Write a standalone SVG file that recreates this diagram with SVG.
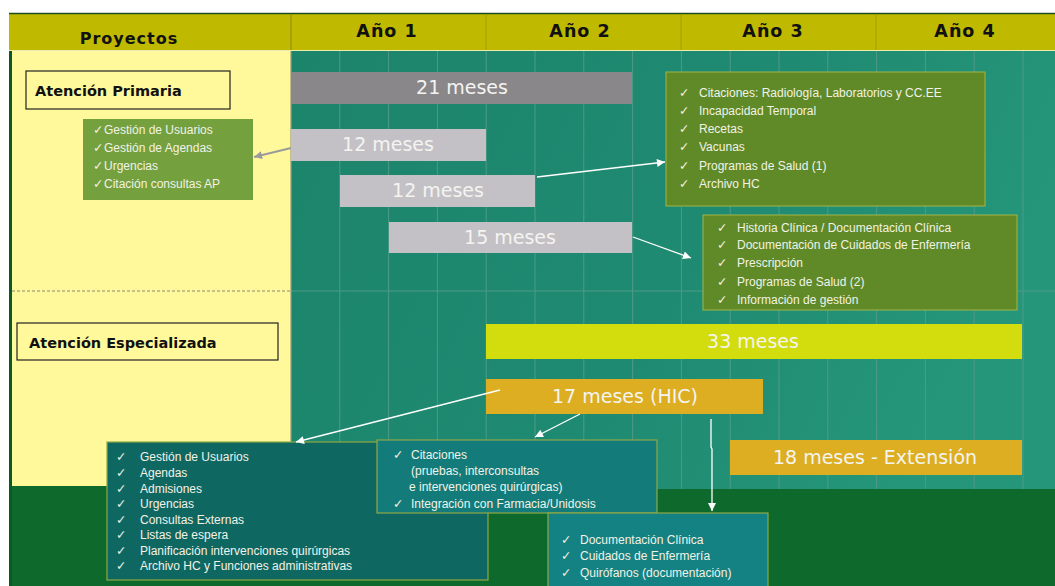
<svg xmlns="http://www.w3.org/2000/svg" width="1055" height="586" viewBox="0 0 1055 586">
<defs>
<linearGradient id="teal" x1="0" y1="0" x2="1" y2="0.3">
<stop offset="0" stop-color="#1c846b"/>
<stop offset="0.6" stop-color="#1f8a72"/>
<stop offset="1" stop-color="#259679"/>
</linearGradient>
<marker id="aw" viewBox="0 0 10 10" refX="10" refY="5" markerWidth="9" markerHeight="8" markerUnits="userSpaceOnUse" orient="auto">
<path d="M0,0 L10,5 L0,10 z" fill="#ffffff"/>
</marker>
<marker id="ag" viewBox="0 0 10 10" refX="10" refY="5" markerWidth="10" markerHeight="8" markerUnits="userSpaceOnUse" orient="auto">
<path d="M0,0 L10,5 L0,10 z" fill="#9a9a9a"/>
</marker>
<style>
.hdr{font-family:"DejaVu Sans",sans-serif;font-weight:bold;fill:#111;text-anchor:middle}
.lbl{font-family:"DejaVu Sans",sans-serif;font-weight:bold;font-size:14.5px;fill:#111}
.bar{font-family:"DejaVu Sans",sans-serif;font-size:19px;fill:#f4f4f0;text-anchor:middle}
.lst{font-family:"Liberation Sans",Arial,sans-serif;font-size:12px;fill:#f2f2e6}
.chk{font-family:"DejaVu Sans",sans-serif;font-size:12.5px;fill:#f2f2e6}
.grid{stroke:#4f9a86;stroke-width:1}
.con{fill:none;stroke:#ffffff;stroke-width:1.3}
.olive{fill:#5f8a27;stroke:#a3b445;stroke-width:1}
.tealbox{stroke:#8fa845;stroke-width:1.2}
</style>
</defs>

<g id="background">
<rect x="9" y="13" width="1046" height="573" fill="#0d6a2c"/>
<rect x="12" y="51" width="279" height="435" fill="#fff99c"/>
<rect x="291" y="51" width="764" height="438" fill="url(#teal)"/>
<g id="grid">
<line class="grid" x1="339.8" y1="51" x2="339.8" y2="489"/>
<line class="grid" x1="388.6" y1="51" x2="388.6" y2="489"/>
<line class="grid" x1="437.4" y1="51" x2="437.4" y2="489"/>
<line class="grid" x1="486.2" y1="51" x2="486.2" y2="489"/>
<line class="grid" x1="535" y1="51" x2="535" y2="489"/>
<line class="grid" x1="583.8" y1="51" x2="583.8" y2="489"/>
<line class="grid" x1="632.6" y1="51" x2="632.6" y2="489"/>
<line class="grid" x1="681.4" y1="51" x2="681.4" y2="489"/>
<line class="grid" x1="730.2" y1="51" x2="730.2" y2="489"/>
<line class="grid" x1="779" y1="51" x2="779" y2="489"/>
<line class="grid" x1="827.8" y1="51" x2="827.8" y2="489"/>
<line class="grid" x1="876.6" y1="51" x2="876.6" y2="489"/>
<line class="grid" x1="925.4" y1="51" x2="925.4" y2="489"/>
<line class="grid" x1="974.2" y1="51" x2="974.2" y2="489"/>
<line class="grid" x1="1023" y1="51" x2="1023" y2="489"/>
<line class="grid" x1="291" y1="291" x2="1055" y2="291"/>
<line x1="291" y1="51" x2="291" y2="489" stroke="#9a9a7a" stroke-width="1.2"/>
</g>
<line x1="12" y1="291" x2="291" y2="291" stroke="#8a8a70" stroke-width="1" stroke-dasharray="3,2"/>
<rect x="9" y="13" width="3" height="573" fill="#0b5a22"/>
</g>

<g id="header">
<rect x="9" y="13" width="1046" height="38" fill="#bfb900"/>
<line x1="9" y1="13.5" x2="1055" y2="13.5" stroke="#1d4d1d" stroke-width="1.5"/>
<line x1="9" y1="50.5" x2="1055" y2="50.5" stroke="#ecebb0" stroke-width="1.2"/>
<line x1="291" y1="14" x2="291" y2="50" stroke="#8f8a00" stroke-width="1"/>
<line x1="486" y1="14" x2="486" y2="50" stroke="#a39e00" stroke-width="1"/>
<line x1="681" y1="14" x2="681" y2="50" stroke="#a39e00" stroke-width="1"/>
<line x1="876" y1="14" x2="876" y2="50" stroke="#a39e00" stroke-width="1"/>
<text class="hdr" x="129" y="44" font-size="16" letter-spacing="1">Proyectos</text>
<text class="hdr" x="387" y="37" font-size="17.5" letter-spacing="1">Año 1</text>
<text class="hdr" x="580" y="37" font-size="17.5" letter-spacing="1">Año 2</text>
<text class="hdr" x="773" y="37" font-size="17.5" letter-spacing="1">Año 3</text>
<text class="hdr" x="965" y="37" font-size="17.5" letter-spacing="1">Año 4</text>
</g>

<g id="atencion-primaria">
<rect x="26" y="71" width="204" height="38" fill="#fff99c" stroke="#222" stroke-width="1.2"/>
<text class="lbl" x="35" y="96">Atención Primaria</text>
</g>

<g id="atencion-especializada">
<rect x="17" y="323" width="261" height="37" fill="#fff99c" stroke="#222" stroke-width="1.2"/>
<text class="lbl" x="29" y="348">Atención Especializada</text>
</g>

<g id="bar-21">
<rect x="291" y="72" width="341" height="32" fill="#8a878b"/>
<text class="bar" x="462" y="94">21 meses</text>
</g>
<g id="bar-12a">
<rect x="291" y="129" width="195" height="32" fill="#c3c1c6"/>
<text class="bar" x="388" y="151">12 meses</text>
</g>
<g id="bar-12b">
<rect x="340" y="175" width="195" height="32" fill="#c3c1c6"/>
<text class="bar" x="438" y="197">12 meses</text>
</g>
<g id="bar-15">
<rect x="389" y="222" width="243" height="31" fill="#c3c1c6"/>
<text class="bar" x="510" y="244">15 meses</text>
</g>
<g id="bar-33">
<rect x="486" y="324" width="536" height="35" fill="#d3dc0c"/>
<text class="bar" x="753" y="348" fill="#f6f6d8">33 meses</text>
</g>
<g id="bar-17">
<rect x="486" y="379" width="277" height="35" fill="#ddae22"/>
<text class="bar" x="625" y="403">17 meses (HIC)</text>
</g>
<g id="bar-18">
<rect x="730" y="440" width="292" height="35" fill="#ddae22"/>
<text class="bar" x="875" y="464">18 meses - Extensión</text>
</g>

<g id="box-ap">
<rect x="83" y="119" width="170" height="81" fill="#74a03e"/>
<text class="chk" x="93" y="134">✓</text><text class="lst" x="104" y="134" font-size="11.6">Gestión de Usuarios</text>
<text class="chk" x="93" y="152">✓</text><text class="lst" x="104" y="152" font-size="11.6">Gestión de Agendas</text>
<text class="chk" x="93" y="170">✓</text><text class="lst" x="104" y="170" font-size="11.6">Urgencias</text>
<text class="chk" x="93" y="188">✓</text><text class="lst" x="104" y="188" font-size="11.6">Citación consultas AP</text>
</g>

<g id="box-ap1">
<rect class="olive" x="666" y="72" width="319" height="134"/>
<text class="chk" x="679" y="97">✓</text><text class="lst" x="699" y="97">Citaciones: Radiología, Laboratorios y CC.EE</text>
<text class="chk" x="679" y="115">✓</text><text class="lst" x="699" y="115">Incapacidad Temporal</text>
<text class="chk" x="679" y="133">✓</text><text class="lst" x="699" y="133">Recetas</text>
<text class="chk" x="679" y="151">✓</text><text class="lst" x="699" y="151">Vacunas</text>
<text class="chk" x="679" y="170">✓</text><text class="lst" x="699" y="170">Programas de Salud (1)</text>
<text class="chk" x="679" y="188">✓</text><text class="lst" x="699" y="188">Archivo HC</text>
</g>

<g id="box-ap2">
<rect class="olive" x="703" y="215" width="314" height="95"/>
<text class="chk" x="717" y="232">✓</text><text class="lst" x="737" y="232">Historia Clínica / Documentación Clínica</text>
<text class="chk" x="717" y="249">✓</text><text class="lst" x="737" y="249">Documentación de Cuidados de Enfermería</text>
<text class="chk" x="717" y="267">✓</text><text class="lst" x="737" y="267">Prescripción</text>
<text class="chk" x="717" y="286">✓</text><text class="lst" x="737" y="286">Programas de Salud (2)</text>
<text class="chk" x="717" y="304">✓</text><text class="lst" x="737" y="304">Información de gestión</text>
</g>

<g id="box-ae1">
<rect class="tealbox" x="107" y="442" width="381" height="138" fill="#0f6762"/>
<text class="chk" x="116" y="461">✓</text><text class="lst" x="140" y="461">Gestión de Usuarios</text>
<text class="chk" x="116" y="477">✓</text><text class="lst" x="140" y="477">Agendas</text>
<text class="chk" x="116" y="493">✓</text><text class="lst" x="140" y="493">Admisiones</text>
<text class="chk" x="116" y="508">✓</text><text class="lst" x="140" y="508">Urgencias</text>
<text class="chk" x="116" y="524">✓</text><text class="lst" x="140" y="524">Consultas Externas</text>
<text class="chk" x="116" y="539">✓</text><text class="lst" x="140" y="539">Listas de espera</text>
<text class="chk" x="116" y="555">✓</text><text class="lst" x="140" y="555">Planificación intervenciones quirúrgicas</text>
<text class="chk" x="116" y="570">✓</text><text class="lst" x="140" y="570">Archivo HC y Funciones administrativas</text>
</g>

<g id="box-ae2">
<rect class="tealbox" x="377" y="440" width="280" height="73" fill="#137c7a"/>
<text class="chk" x="393" y="459">✓</text><text class="lst" x="411" y="459">Citaciones</text>
<text class="lst" x="411" y="475">(pruebas, interconsultas</text>
<text class="lst" x="409" y="491">e intervenciones quirúrgicas)</text>
<text class="chk" x="393" y="508">✓</text><text class="lst" x="411" y="508">Integración con Farmacia/Unidosis</text>
</g>

<g id="box-ae3">
<rect class="tealbox" x="548" y="513" width="220" height="78" fill="#148182"/>
<text class="chk" x="561" y="544">✓</text><text class="lst" x="580" y="544">Documentación Clínica</text>
<text class="chk" x="561" y="560">✓</text><text class="lst" x="580" y="560">Cuidados de Enfermería</text>
<text class="chk" x="561" y="577">✓</text><text class="lst" x="580" y="577">Quirófanos (documentación)</text>
</g>

<g id="connectors">
<line x1="291" y1="148" x2="254" y2="157" fill="none" stroke="#9a9a9a" stroke-width="2" marker-end="url(#ag)"/>
<line class="con" x1="537" y1="177" x2="665" y2="162" marker-end="url(#aw)"/>
<line class="con" x1="633" y1="237" x2="691" y2="258" marker-end="url(#aw)"/>
<line class="con" x1="500" y1="390" x2="296" y2="442" marker-end="url(#aw)"/>
<line class="con" x1="580" y1="414" x2="535" y2="437" marker-end="url(#aw)"/>
<polyline class="con" points="711,419 711,447 712,449 712,511" marker-end="url(#aw)"/>
</g>
</svg>
